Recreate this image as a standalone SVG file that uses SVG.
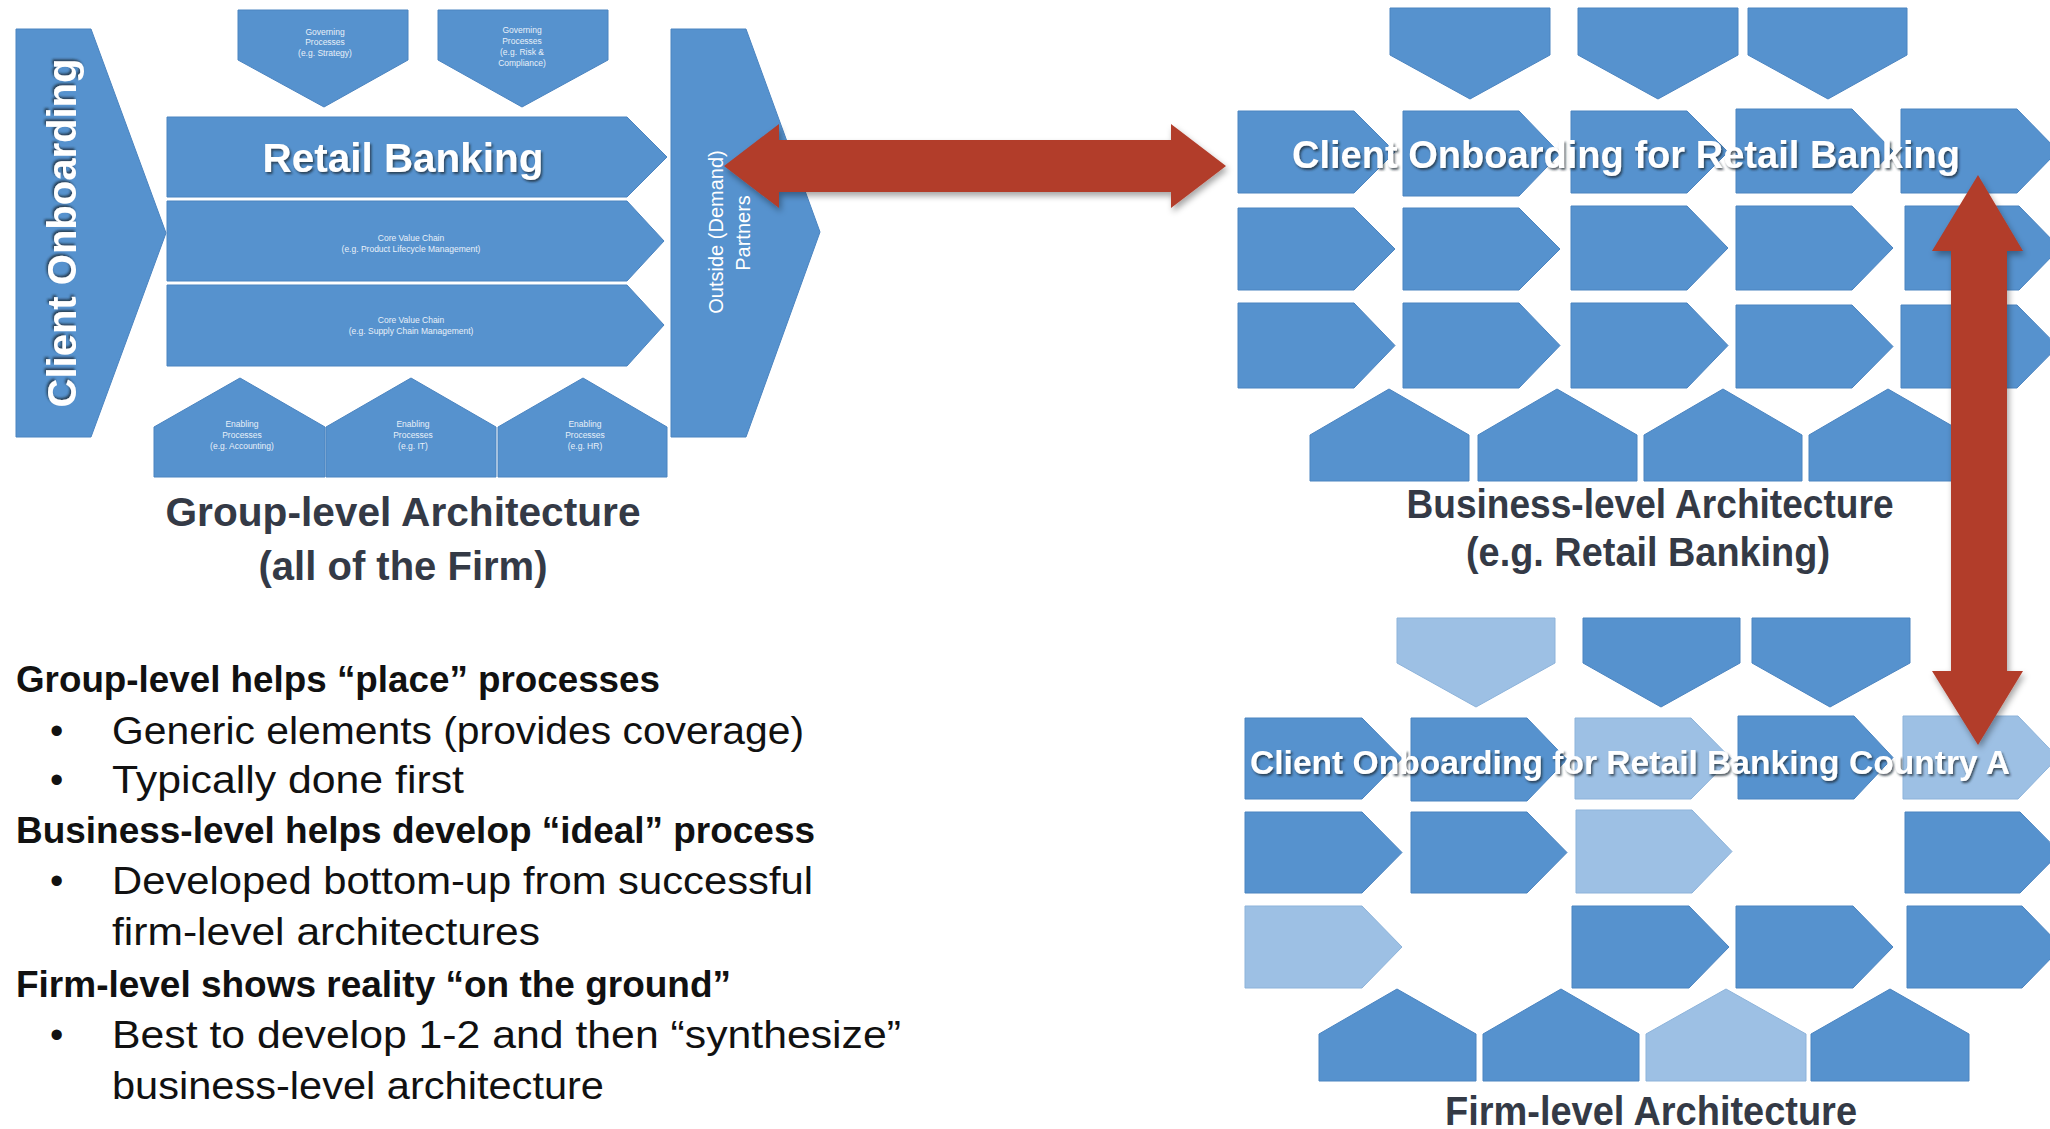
<svg xmlns="http://www.w3.org/2000/svg" width="2050" height="1129" viewBox="0 0 2050 1129">
<defs>
<filter id="ts" x="-10%" y="-30%" width="120%" height="160%">
<feDropShadow dx="1.5" dy="2" stdDeviation="1" flood-color="#1c2633" flood-opacity="0.75"/>
</filter>
<filter id="tsv" x="-30%" y="-10%" width="160%" height="120%">
<feDropShadow dx="2" dy="-1.5" stdDeviation="1" flood-color="#1c2633" flood-opacity="0.75"/>
</filter>
<filter id="ds" x="-10%" y="-20%" width="120%" height="150%">
<feDropShadow dx="2" dy="4" stdDeviation="3" flood-color="#000" flood-opacity="0.35"/>
</filter>
<style>
.b{fill:#5692ce;stroke:#4b84c0;stroke-width:1}
.l{fill:#9dc0e4;stroke:#8db3da;stroke-width:1}
.sm{font-family:"Liberation Sans",Arial,sans-serif;font-size:8.5px;fill:#e8f0f9;text-anchor:middle}
.wt{font-family:"Liberation Sans",Arial,sans-serif;font-weight:bold;fill:#ffffff;text-anchor:middle}
.cap{font-family:"Liberation Sans",Arial,sans-serif;font-weight:bold;font-size:40px;fill:#343a46;text-anchor:middle}
.hd{font-family:"Liberation Sans Narrow","Liberation Sans",Arial,sans-serif;font-weight:bold;font-size:36px;fill:#111111}
.tx{font-family:"Liberation Sans",Arial,sans-serif;font-size:38px;fill:#111111}
.os{font-family:"Liberation Sans",Arial,sans-serif;font-size:20px;fill:#ffffff;text-anchor:middle}
.arr{fill:#b23d2b}
</style>
</defs>
<rect x="0" y="0" width="2050" height="1129" fill="#ffffff"/>

<!-- Group-level architecture -->
<g id="group-level">
<g id="g-client-onboarding">
<polygon class="b" points="16,29 91,29 166,233 91,437 16,437"/>
<text class="wt" font-size="40" textLength="349" lengthAdjust="spacingAndGlyphs" transform="translate(76,233) rotate(-90)" filter="url(#tsv)">Client Onboarding</text>
</g>
<g id="g-gov-strategy">
<polygon class="b" points="238,10 408,10 408,60 324,107 238,60"/>
<text class="sm" x="325" y="35">Governing</text>
<text class="sm" x="325" y="45">Processes</text>
<text class="sm" x="325" y="56">(e.g. Strategy)</text>
</g>
<g id="g-gov-risk">
<polygon class="b" points="438,10 608,10 608,60 522,107 438,60"/>
<text class="sm" x="522" y="33">Governing</text>
<text class="sm" x="522" y="44">Processes</text>
<text class="sm" x="522" y="55">(e.g. Risk &amp;</text>
<text class="sm" x="522" y="66">Compliance)</text>
</g>
<g id="g-retail-banking">
<polygon class="b" points="167,117 627,117 667,157 627,197 167,197"/>
<text class="wt" font-size="40" x="403" y="172" textLength="281" lengthAdjust="spacingAndGlyphs" filter="url(#ts)">Retail Banking</text>
</g>
<g id="g-core-plm">
<polygon class="b" points="167,201 627,201 664,241 627,281 167,281"/>
<text class="sm" x="411" y="241">Core Value Chain</text>
<text class="sm" x="411" y="252">(e.g. Product Lifecycle Management)</text>
</g>
<g id="g-core-scm">
<polygon class="b" points="167,285 627,285 664,325 627,366 167,366"/>
<text class="sm" x="411" y="323">Core Value Chain</text>
<text class="sm" x="411" y="334">(e.g. Supply Chain Management)</text>
</g>
<g id="g-enab-accounting">
<polygon class="b" points="154,427 240,378 325,427 325,477 154,477"/>
<text class="sm" x="242" y="427">Enabling</text>
<text class="sm" x="242" y="438">Processes</text>
<text class="sm" x="242" y="449">(e.g. Accounting)</text>
</g>
<g id="g-enab-it">
<polygon class="b" points="326,427 411,378 496,427 496,477 326,477"/>
<text class="sm" x="413" y="427">Enabling</text>
<text class="sm" x="413" y="438">Processes</text>
<text class="sm" x="413" y="449">(e.g. IT)</text>
</g>
<g id="g-enab-hr">
<polygon class="b" points="498,427 583,378 667,427 667,477 498,477"/>
<text class="sm" x="585" y="427">Enabling</text>
<text class="sm" x="585" y="438">Processes</text>
<text class="sm" x="585" y="449">(e.g. HR)</text>
</g>
<g id="g-outside">
<polygon class="b" points="671,29 746,29 820,232 746,437 671,437"/>
<text class="os" transform="translate(723,232) rotate(-90)">Outside (Demand)</text>
<text class="os" transform="translate(750,233) rotate(-90)">Partners</text>
</g>
<g id="g-caption">
<text class="cap" x="403" y="526" textLength="475" lengthAdjust="spacingAndGlyphs">Group-level Architecture</text>
<text class="cap" x="403" y="580" textLength="289" lengthAdjust="spacingAndGlyphs">(all of the Firm)</text>
</g>
</g>

<!-- Business-level architecture -->
<g id="business-level">
<g id="b-gov-1"><polygon class="b" points="1390,8 1550,8 1550,55 1470,99 1390,55"/></g>
<g id="b-gov-2"><polygon class="b" points="1578,8 1738,8 1738,55 1658,99 1578,55"/></g>
<g id="b-gov-3"><polygon class="b" points="1748,8 1907,8 1907,55 1828,99 1748,55"/></g>
<g id="b-r1-1"><polygon class="b" points="1238,111 1354,111 1395,152 1354,193 1238,193"/></g>
<g id="b-r1-2"><polygon class="b" points="1403,111 1519,111 1560,153.5 1519,196 1403,196"/></g>
<g id="b-r1-3"><polygon class="b" points="1571,111 1687,111 1728,152 1687,193 1571,193"/></g>
<g id="b-r1-4"><polygon class="b" points="1736,109 1852,109 1893,151 1852,193 1736,193"/></g>
<g id="b-r1-5"><polygon class="b" points="1901,109 2017,109 2058,151 2017,193 1901,193"/></g>
<g id="b-r2-1"><polygon class="b" points="1238,208 1354,208 1395,249 1354,290 1238,290"/></g>
<g id="b-r2-2"><polygon class="b" points="1403,208 1519,208 1560,249 1519,290 1403,290"/></g>
<g id="b-r2-3"><polygon class="b" points="1571,206 1687,206 1728,248 1687,290 1571,290"/></g>
<g id="b-r2-4"><polygon class="b" points="1736,206 1852,206 1893,248 1852,290 1736,290"/></g>
<g id="b-r2-5"><polygon class="b" points="1905,206 2019,206 2060,248 2019,290 1905,290"/></g>
<g id="b-r3-1"><polygon class="b" points="1238,303 1354,303 1395,345.5 1354,388 1238,388"/></g>
<g id="b-r3-2"><polygon class="b" points="1403,303 1519,303 1560,345.5 1519,388 1403,388"/></g>
<g id="b-r3-3"><polygon class="b" points="1571,303 1687,303 1728,345.5 1687,388 1571,388"/></g>
<g id="b-r3-4"><polygon class="b" points="1736,305 1852,305 1893,346.5 1852,388 1736,388"/></g>
<g id="b-r3-5"><polygon class="b" points="1901,305 2017,305 2058,346.5 2017,388 1901,388"/></g>
<g id="b-en-1"><polygon class="b" points="1310,435 1389,389 1469,435 1469,481 1310,481"/></g>
<g id="b-en-2"><polygon class="b" points="1478,435 1557,389 1637,435 1637,481 1478,481"/></g>
<g id="b-en-3"><polygon class="b" points="1644,435 1723,389 1802,435 1802,481 1644,481"/></g>
<g id="b-en-4"><polygon class="b" points="1809,435 1888,389 1968,435 1968,481 1809,481"/></g>
<g id="b-title">
<text class="wt" font-size="38" x="1626" y="168" textLength="668" lengthAdjust="spacingAndGlyphs" filter="url(#ts)">Client Onboarding for Retail Banking</text>
</g>
<g id="b-caption">
<text class="cap" x="1650" y="518" textLength="487" lengthAdjust="spacingAndGlyphs">Business-level Architecture</text>
<text class="cap" x="1648" y="566" textLength="364" lengthAdjust="spacingAndGlyphs">(e.g. Retail Banking)</text>
</g>
</g>

<!-- Firm-level architecture -->
<g id="firm-level">
<g id="f-gov-1"><polygon class="l" points="1397,618 1555,618 1555,663 1476,707 1397,663"/></g>
<g id="f-gov-2"><polygon class="b" points="1583,618 1740,618 1740,663 1661,707 1583,663"/></g>
<g id="f-gov-3"><polygon class="b" points="1752,618 1910,618 1910,663 1830,707 1752,663"/></g>
<g id="f-r1-1"><polygon class="b" points="1245,718 1362,718 1402,758.5 1362,799 1245,799"/></g>
<g id="f-r1-2"><polygon class="b" points="1411,718 1527,718 1567,759.5 1527,801 1411,801"/></g>
<g id="f-r1-3"><polygon class="l" points="1575,718 1691,718 1731,758.5 1691,799 1575,799"/></g>
<g id="f-r1-4"><polygon class="b" points="1738,716 1854,716 1893,757.5 1854,799 1738,799"/></g>
<g id="f-r1-5"><polygon class="l" points="1903,716 2018,716 2058,757.5 2018,799 1903,799"/></g>
<g id="f-r2-1"><polygon class="b" points="1245,812 1362,812 1402,852.5 1362,893 1245,893"/></g>
<g id="f-r2-2"><polygon class="b" points="1411,812 1527,812 1567,852.5 1527,893 1411,893"/></g>
<g id="f-r2-3"><polygon class="l" points="1576,810 1692,810 1732,851.5 1692,893 1576,893"/></g>
<g id="f-r2-5"><polygon class="b" points="1905,812 2020,812 2060,852.5 2020,893 1905,893"/></g>
<g id="f-r3-1"><polygon class="l" points="1245,906 1362,906 1402,947 1362,988 1245,988"/></g>
<g id="f-r3-3"><polygon class="b" points="1572,906 1689,906 1729,947 1689,988 1572,988"/></g>
<g id="f-r3-4"><polygon class="b" points="1736,906 1853,906 1893,947 1853,988 1736,988"/></g>
<g id="f-r3-5"><polygon class="b" points="1907,906 2022,906 2062,947 2022,988 1907,988"/></g>
<g id="f-en-1"><polygon class="b" points="1319,1034 1397,989 1476,1034 1476,1081 1319,1081"/></g>
<g id="f-en-2"><polygon class="b" points="1483,1034 1561,989 1639,1034 1639,1081 1483,1081"/></g>
<g id="f-en-3"><polygon class="l" points="1646,1034 1726,989 1806,1034 1806,1081 1646,1081"/></g>
<g id="f-en-4"><polygon class="b" points="1811,1034 1890,989 1969,1034 1969,1081 1811,1081"/></g>
<g id="f-title">
<text class="wt" font-size="34" x="1630" y="774" textLength="760" lengthAdjust="spacingAndGlyphs" filter="url(#ts)">Client Onboarding for Retail Banking Country A</text>
</g>
<g id="f-caption">
<text class="cap" x="1651" y="1125" textLength="412" lengthAdjust="spacingAndGlyphs">Firm-level Architecture</text>
</g>
</g>

<!-- Connectors -->
<g id="connectors">
<polygon class="arr" filter="url(#ds)" points="724,166 779,124 779,140 1171,140 1171,124 1226,166 1171,208 1171,192 779,192 779,208"/>
<polygon class="arr" filter="url(#ds)" points="1978,175 2023,251 2007,251 2007,671 2023,671 1978,745 1932,671 1951,671 1951,251 1932,251"/>
</g>

<!-- Notes -->
<g id="notes">
<text class="hd" x="16" y="692" textLength="644" lengthAdjust="spacingAndGlyphs">Group-level helps “place” processes</text>
<text class="tx" x="50" y="744">•</text>
<text class="tx" x="112" y="744" textLength="692" lengthAdjust="spacingAndGlyphs">Generic elements (provides coverage)</text>
<text class="tx" x="50" y="793">•</text>
<text class="tx" x="112" y="793" textLength="352" lengthAdjust="spacingAndGlyphs">Typically done first</text>
<text class="hd" x="16" y="843" textLength="799" lengthAdjust="spacingAndGlyphs">Business-level helps develop “ideal” process</text>
<text class="tx" x="50" y="894">•</text>
<text class="tx" x="112" y="894" textLength="701" lengthAdjust="spacingAndGlyphs">Developed bottom-up from successful</text>
<text class="tx" x="112" y="945" textLength="428" lengthAdjust="spacingAndGlyphs">firm-level architectures</text>
<text class="hd" x="16" y="997" textLength="715" lengthAdjust="spacingAndGlyphs">Firm-level shows reality “on the ground”</text>
<text class="tx" x="50" y="1048">•</text>
<text class="tx" x="112" y="1048" textLength="789" lengthAdjust="spacingAndGlyphs">Best to develop 1-2 and then “synthesize”</text>
<text class="tx" x="112" y="1099" textLength="492" lengthAdjust="spacingAndGlyphs">business-level architecture</text>
</g>
</svg>
